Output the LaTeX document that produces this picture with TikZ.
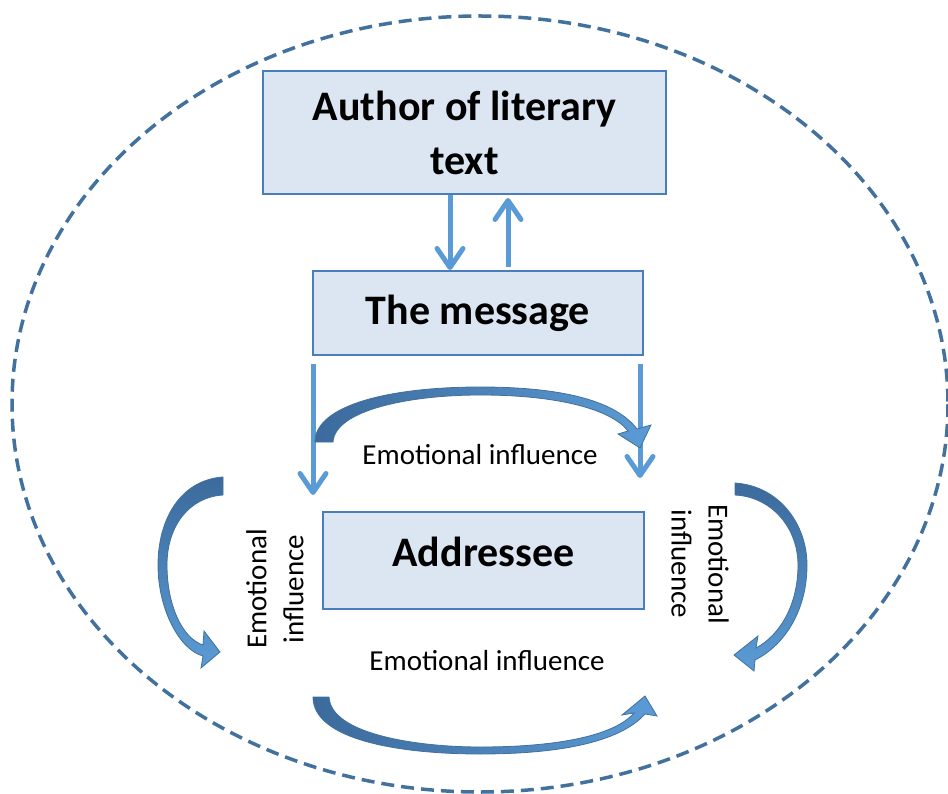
\documentclass[tikz,border=0pt]{standalone}
\usepackage{fontspec}
\setmainfont{Carlito}
\usetikzlibrary{arrows.meta,calc}
\definecolor{boxfill}{HTML}{DCE6F2}
\definecolor{boxline}{HTML}{4A7EBB}
\definecolor{arr}{HTML}{5B9BD5}
\definecolor{dk}{HTML}{41719C}
\definecolor{cdark}{HTML}{3C6A9C}
\begin{document}
\begin{tikzpicture}[x=1pt,y=-1pt,
  box/.style={draw=boxline, line width=2pt, fill=boxfill, inner sep=0pt,
    font=\bfseries\fontsize{42}{54}\selectfont, align=center},
  sarrow/.style={draw=arr, line width=5pt, -{Straight Barb[length=19pt,width=26pt,round]}},
  lbl/.style={font=\fontsize{29}{37}\selectfont, align=center, inner sep=0pt},
  hband/.style={left color=cdark, right color=arr, draw=dk, line width=0.8pt},
  vband/.style={top color=cdark, bottom color=arr, draw=dk, line width=0.8pt},
  ring/.style={draw=dk, line width=3.5pt, dash pattern=on 13pt off 7pt}
]
\useasboundingbox (0,0) rectangle (948,794);

% outer dashed ellipse
\draw[ring] (480,404) ellipse [x radius=468, y radius=388];

% boxes
\node[box, minimum width=403pt, minimum height=123pt] (author) at (464.5,132.5) {Author of literary\\text};
\node[box, minimum width=330pt, minimum height=84pt] (msg) at (478,313) {The message};
\node[box, minimum width=321pt, minimum height=97pt, text depth=18pt] (addr) at (483.5,560.5) {Addressee};

% straight arrows between author and message
\coordinate (xa) at (450,0);
\coordinate (xb) at (508,0);
\draw[sarrow] (author.south -| xa) -- (msg.north -| xa);
\draw[sarrow] ([yshift=3pt]msg.north -| xb) -- ([yshift=-3pt]author.south -| xb);

% arrows from the message downward
\coordinate (dl) at (313,495);
\coordinate (dr) at (640,478);
\draw[sarrow] ([yshift=-8pt]msg.south -| dl) -- (dl);
\draw[sarrow] ([yshift=-8pt]msg.south -| dr) -- (dr);

% curved block arrows
% top
\shadedraw[hband] (315,442) -- (333,442)
  .. controls (335,410) and (410,395) .. (480,395)
  .. controls (560,395) and (612,410) .. (628,431)
  -- (618,434) -- (640,448) -- (651,425) -- (637,429)
  .. controls (615,400) and (560,387) .. (480,387)
  .. controls (390,387) and (315,405) .. (315,442) -- cycle;
% bottom
\shadedraw[hband] (313,697) -- (329,697)
  .. controls (331,735) and (420,747) .. (480,747)
  .. controls (560,747) and (615,735) .. (634,713)
  -- (622,715) -- (645,696) -- (657,716) -- (645,714)
  .. controls (620,742) and (560,754) .. (480,754)
  .. controls (400,754) and (313,740) .. (313,697) -- cycle;
% left
\shadedraw[vband] (223,477)
  .. controls (180,480) and (158,520) .. (158,565)
  .. controls (158,610) and (180,650) .. (203,656)
  -- (201,668) -- (220,652) -- (204,631) -- (203,645)
  .. controls (182,638) and (167,605) .. (167,565)
  .. controls (167,525) and (190,497) .. (223,495) -- cycle;
% right
\shadedraw[vband] (735,483)
  .. controls (780,486) and (807,525) .. (807,565)
  .. controls (807,610) and (785,645) .. (755,660)
  -- (754,671) -- (734,655) -- (758,636) -- (756,648)
  .. controls (780,635) and (798,605) .. (798,565)
  .. controls (798,528) and (772,497) .. (735,495) -- cycle;

% labels
\node[lbl] (ltop) at (480,455) {Emotional influence};
\node[lbl] (lbot) at (487,661) {Emotional influence};
\node[lbl, rotate=90] (lleft) at (275,589) {Emotional\\influence};
\node[lbl, rotate=-90] (lright) at (700,564) {Emotional\\influence};
\end{tikzpicture}
\end{document}
